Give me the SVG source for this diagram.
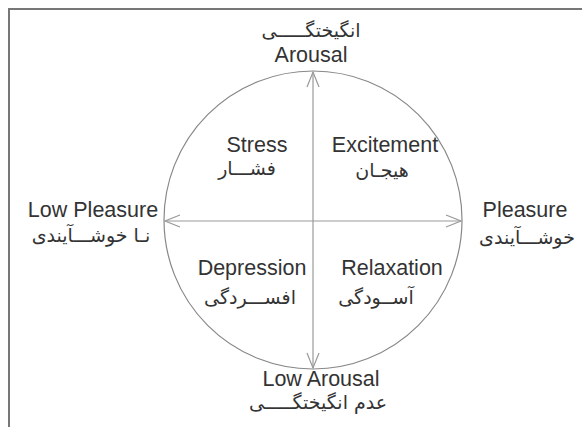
<svg xmlns="http://www.w3.org/2000/svg" width="582" height="427" viewBox="0 0 582 427">
<style>
.en{font-family:"Liberation Sans",Arial,sans-serif;font-size:21.5px;fill:#333;text-anchor:middle}
.fa{font-family:"DejaVu Sans","Noto Sans",sans-serif;font-size:19px;fill:#333;text-anchor:middle}
.ax{stroke:#999;stroke-width:1.2;fill:none}
</style>
<defs>
<marker id="ah" markerUnits="userSpaceOnUse" markerWidth="20" markerHeight="14" viewBox="-16 -7 17 14" refX="0" refY="0" orient="auto-start-reverse">
<path d="M-15,-6 L0,0 L-15,6" fill="none" stroke="#999" stroke-width="1.2"/>
</marker>
</defs>
<rect width="582" height="427" fill="#fff"/>
<g id="frame" stroke="#777" stroke-width="2" fill="none">
<path d="M9,427 V9 H582"/>
</g>
<g id="circle"><circle cx="313" cy="220" r="149" fill="none" stroke="#888" stroke-width="1.2"/></g>
<g id="connectors">
<line class="ax" x1="313" y1="220" x2="313" y2="72" marker-end="url(#ah)"/>
<line class="ax" x1="313" y1="220" x2="313" y2="368" marker-end="url(#ah)"/>
<line class="ax" x1="313" y1="221" x2="165" y2="221" marker-end="url(#ah)"/>
<line class="ax" x1="313" y1="221" x2="461" y2="221" marker-end="url(#ah)"/>
</g>
<g id="arousal"><text class="fa" x="311" y="37">انگیختگـــــی</text><text class="en" x="311" y="62">Arousal</text></g>
<g id="low-arousal"><text class="en" x="321" y="386">Low Arousal</text><text class="fa" x="318" y="409">عدم انگیختگـــــی</text></g>
<g id="low-pleasure"><text class="en" x="93" y="217">Low Pleasure</text><text class="fa" x="91" y="242">نـا خوشـــآیندی</text></g>
<g id="pleasure"><text class="en" x="525" y="217">Pleasure</text><text class="fa" x="527" y="244">خوشـــآیندی</text></g>
<g id="stress"><text class="en" x="257" y="152">Stress</text><text class="fa" x="247" y="175">فشـــار</text></g>
<g id="excitement"><text class="en" x="385" y="152">Excitement</text><text class="fa" x="382" y="177">هیجـان</text></g>
<g id="depression"><text class="en" x="252" y="275">Depression</text><text class="fa" x="250" y="304">افســـردگی</text></g>
<g id="relaxation"><text class="en" x="392" y="275">Relaxation</text><text class="fa" x="376" y="304">آســودگی</text></g>
</svg>
